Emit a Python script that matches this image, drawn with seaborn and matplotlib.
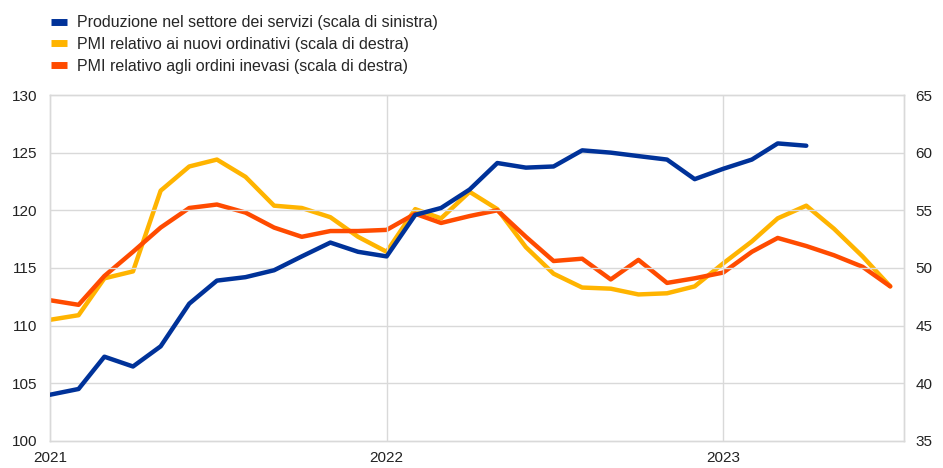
import matplotlib

matplotlib.use("Agg")
import matplotlib.dates as mdates
import matplotlib.pyplot as plt
import pandas as pd
import seaborn as sns
from matplotlib.lines import Line2D

# Monthly data, Jan 2021 - Jul 2023
months = pd.date_range("2021-01-01", periods=31, freq="MS")

servizi = [
    104.0, 104.5, 107.3, 106.45, 108.2, 111.9, 113.9, 114.2, 114.8, 116.0,
    117.2, 116.4, 116.0, 119.6, 120.2, 121.8, 124.1, 123.7, 123.8, 125.2,
    125.0, 124.7, 124.4, 122.7, 123.6, 124.4, 125.8, 125.6,
]
nuovi_ordinativi = [
    45.5, 45.9, 49.1, 49.7, 56.7, 58.8, 59.4, 57.9, 55.4, 55.2,
    54.4, 52.7, 51.4, 55.1, 54.3, 56.6, 55.1, 51.8, 49.5, 48.3,
    48.2, 47.7, 47.8, 48.4, 50.4, 52.3, 54.3, 55.4, 53.4, 51.0, 48.4,
]
ordini_inevasi = [
    47.2, 46.8, 49.3, 51.4, 53.5, 55.2, 55.5, 54.8, 53.5, 52.7,
    53.2, 53.2, 53.3, 54.7, 53.9, 54.5, 55.0, 52.7, 50.6, 50.8,
    49.0, 50.7, 48.7, 49.1, 49.6, 51.4, 52.6, 51.9, 51.1, 50.1, 48.4,
]

labels = [
    "Produzione nel settore dei servizi (scala di sinistra)",
    "PMI relativo ai nuovi ordinativi (scala di destra)",
    "PMI relativo agli ordini inevasi (scala di destra)",
]
colors = ["#003299", "#FFB400", "#FF4B00"]

sns.set_style("white")
plt.rcParams["font.family"] = ["Liberation Sans", "DejaVu Sans"]

fig = plt.figure(figsize=(9.43, 4.68), dpi=100)
ax = fig.add_axes([0.053, 0.058, 0.9057, 0.739])
ax2 = ax.twinx()

sns.lineplot(x=months[: len(servizi)], y=servizi, ax=ax, color=colors[0], lw=3.2, zorder=5)
sns.lineplot(x=months, y=nuovi_ordinativi, ax=ax2, color=colors[1], lw=3.2, zorder=3)
sns.lineplot(x=months, y=ordini_inevasi, ax=ax2, color=colors[2], lw=3.2, zorder=4)

# blue line on top of the twin axis
ax.set_zorder(ax2.get_zorder() + 1)
ax.patch.set_visible(False)

ax.set_ylim(100, 130)
ax2.set_ylim(35, 65)
ax.set_yticks(range(100, 131, 5))
ax2.set_yticks(range(35, 66, 5))
ax.set_xlim(pd.Timestamp("2021-01-01"), pd.Timestamp("2023-07-16"))
ax.xaxis.set_major_locator(mdates.YearLocator())
ax.xaxis.set_major_formatter(mdates.DateFormatter("%Y"))

grid_col = "#d9d9d9"
for y in range(105, 130, 5):
    ax.axhline(y, color=grid_col, lw=1.0, zorder=0)
for yr in ["2022-01-01", "2023-01-01"]:
    ax.axvline(pd.Timestamp(yr), color=grid_col, lw=1.0, zorder=0)

for a in (ax, ax2):
    a.set_xlabel("")
    a.set_ylabel("")
    for s in a.spines.values():
        s.set_color(grid_col)
        s.set_linewidth(1.0)
    a.tick_params(length=0, labelsize=11, colors="#222222")
ax.tick_params(axis="y", pad=9)
ax.tick_params(axis="x", pad=7)
ax2.tick_params(axis="y", pad=8)

handles = [Line2D([], [], color=c, lw=5, solid_capstyle="butt") for c in colors]
fig.legend(
    handles,
    labels,
    loc="upper left",
    bbox_to_anchor=(0.047, 0.981),
    frameon=False,
    fontsize=11.5,
    handlelength=1.0,
    handletextpad=0.65,
    labelspacing=0.42,
    borderaxespad=0.0,
)

fig.savefig("out.png", dpi=100)
